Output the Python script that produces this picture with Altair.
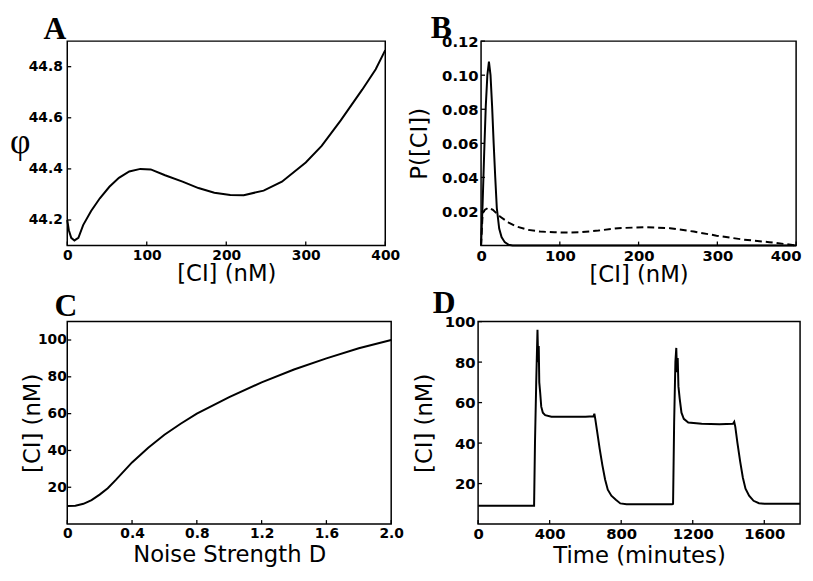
import altair as alt
import pandas as pd

# ---------------- Panel A : potential phi vs [CI] ----------------
a_ci = [0, 2, 5, 9, 14, 20, 30, 41, 53, 65, 78, 92, 105, 123, 145, 165, 185,
        205, 222, 247, 270, 300, 320, 344, 371, 388, 400]
a_phi = [44.20, 44.16, 44.13, 44.12, 44.13, 44.18, 44.235, 44.285, 44.33, 44.365,
         44.39, 44.40, 44.398, 44.375, 44.35, 44.325, 44.307, 44.298, 44.297,
         44.315, 44.35, 44.425, 44.49, 44.59, 44.71, 44.79, 44.865]

# ---------------- Panel B : probability distributions ----------------
b_ci_solid = [0, 2, 4, 6, 8, 10, 12, 14, 16, 18, 20, 23, 26, 30, 35, 40, 400]
b_p_solid = [0.0, 0.025, 0.055, 0.082, 0.100, 0.108, 0.100, 0.082, 0.060, 0.040,
             0.022, 0.010, 0.005, 0.002, 0.0005, 0.0, 0.0]
b_ci_dash = [0, 2, 5, 9.5, 15, 24, 35, 45, 60, 75, 93, 110, 126, 149, 174, 207,
             240, 270, 299, 333, 366, 391, 400]
b_p_dash = [0.0, 0.019, 0.021, 0.0223, 0.021, 0.017, 0.0135, 0.0112, 0.0092,
            0.0082, 0.0078, 0.0076, 0.0078, 0.0088, 0.0102, 0.0108, 0.0102,
            0.0082, 0.0058, 0.0035, 0.002, 0.0006, 0.0]

# ---------------- Panel C : mean [CI] vs noise strength ----------------
c_d = [0, 0.05, 0.1, 0.15, 0.2, 0.25, 0.3, 0.4, 0.5, 0.6, 0.7, 0.8, 0.9, 1.0,
       1.2, 1.4, 1.6, 1.8, 2.0]
c_ci = [9.8, 10, 11, 13, 16, 19.5, 24, 33.5, 41.5, 48.5, 54.5, 60, 64.5, 69,
        77, 84, 90, 95.5, 100]

# ---------------- Panel D : time series ----------------
d_t = [0, 313, 318, 325, 332, 336, 339, 342, 347, 353, 362, 375, 410, 500, 600,
       645, 650, 655, 665, 680, 695, 710, 725, 745, 770, 795, 830, 1085, 1090,
       1096, 1103, 1108, 1112, 1116, 1120, 1127, 1137, 1150, 1175, 1250, 1350,
       1425, 1432, 1438, 1450, 1465, 1480, 1495, 1515, 1540, 1570, 1600, 1800]
d_ci = [9, 9, 40, 70, 96, 80, 88, 70, 65, 58, 55, 53.8, 53, 53, 53, 53.2, 54.5,
        52, 46, 37, 29, 22, 17, 14, 12, 10.2, 9.8, 9.8, 10, 50, 80, 87, 75, 82,
        68, 62, 55, 52, 50.2, 49.5, 49.3, 49.5, 50.5, 48, 40, 31, 23, 17.5, 14,
        11.5, 10.3, 10, 10]

# tick values
a_xticks = [0, 100, 200, 300, 400]
a_yticks = [44.2, 44.4, 44.6, 44.8]
b_yticks = [0.02, 0.04, 0.06, 0.08, 0.10, 0.12]
c_xticks = [0, 0.4, 0.8, 1.2, 1.6, 2.0]
c_yticks = [20, 40, 60, 80, 100]
d_xticks = [0, 400, 800, 1200, 1600]
d_yticks = [20, 40, 60, 80, 100]

panel_letters = ["A", "B", "C", "D"]

LAB_FONT = "DejaVu Sans"
TIT_FONT = "DejaVu Sans"
LET_FONT = "Liberation Serif"


def letter(t, dx, dy):
    return alt.Chart(pd.DataFrame({"t": [t]})).mark_text(
        font=LET_FONT, fontSize=32, fontWeight="bold", color="black",
        align="left", baseline="alphabetic",
    ).encode(text="t:N", x=alt.value(dx), y=alt.value(dy))


def line(df, x, y, xs, ys, xa, ya, dash=None):
    kw = dict(color="black", strokeWidth=2)
    if dash:
        kw["strokeDash"] = dash
    return alt.Chart(df).mark_line(**kw).encode(
        x=alt.X(x, type="quantitative", scale=xs, axis=xa),
        y=alt.Y(y, type="quantitative", scale=ys, axis=ya),
    )


def inward_ticks(xf, yf, xs, ys, xa, ya, xt, yt, h):
    """Short tick marks drawn inside the frame, at the axis tick values."""
    ly = alt.Chart(pd.DataFrame({yf: yt})).mark_rule(
        color="black", strokeWidth=1.3).encode(
        y=alt.Y(yf, type="quantitative", scale=ys, axis=ya),
        x=alt.value(0), x2=alt.value(4))
    lx = alt.Chart(pd.DataFrame({xf: xt})).mark_rule(
        color="black", strokeWidth=1.3).encode(
        x=alt.X(xf, type="quantitative", scale=xs, axis=xa),
        y=alt.value(h), y2=alt.value(h - 4))
    return [ly, lx]


# Panel A
dfa = pd.DataFrame({"ci": a_ci, "phi": a_phi})
ax_s = alt.Scale(domain=[0, 400], nice=False, zero=False)
ay_s = alt.Scale(domain=[44.1, 44.9], nice=False, zero=False)
ax_a = alt.Axis(values=a_xticks, title="[CI] (nM)", format="d", titlePadding=0)
ay_a = alt.Axis(values=a_yticks, format=".1f", title="φ", titleAngle=0,
                titleFont=LET_FONT, titleFontSize=36, titleAlign="center",
                titleBaseline="middle", titleX=-48, titleY=102, labelPadding=5)
panelA = alt.layer(
    line(dfa, "ci", "phi", ax_s, ay_s, ax_a, ay_a),
    *inward_ticks("ci", "phi", ax_s, ay_s, ax_a, ay_a, a_xticks, a_yticks, 207),
    letter(panel_letters[0], -24, -2),
).properties(width=322, height=207)

# Panel B
dfb1 = pd.DataFrame({"ci": b_ci_solid, "p": b_p_solid})
dfb2 = pd.DataFrame({"ci": b_ci_dash, "p": b_p_dash})
bx_s = alt.Scale(domain=[0, 400], nice=False, zero=False)
by_s = alt.Scale(domain=[0, 0.12], nice=False)
bx_a = alt.Axis(values=a_xticks, title="[CI] (nM)", format="d", labelFontSize=15,
                labelFlush=True, labelFlushOffset=5, titlePadding=0)
by_a = alt.Axis(values=b_yticks, format=".2f", title="P([CI])", labelFontSize=15,
                titlePadding=10)
panelB = alt.layer(
    line(dfb2, "ci", "p", bx_s, by_s, bx_a, by_a, dash=[7, 4]),
    line(dfb1, "ci", "p", bx_s, by_s, bx_a, by_a),
    *inward_ticks("ci", "p", bx_s, by_s, bx_a, by_a, a_xticks, b_yticks, 207),
    letter(panel_letters[1], -51, -3),
).properties(width=319, height=207)

# Panel C
dfc = pd.DataFrame({"d": c_d, "ci": c_ci})
cx_s = alt.Scale(domain=[0, 2.0], nice=False, zero=False)
cy_s = alt.Scale(domain=[0, 110], nice=False)
cx_a = alt.Axis(values=c_xticks, title="Noise Strength D",
                labelExpr="datum.value == 0 ? '0' : format(datum.value, '.1f')",
                titlePadding=3)
cy_a = alt.Axis(values=c_yticks, format="d", title="[CI] (nM)", titlePadding=-7,
                labelPadding=1)
panelC = alt.layer(
    line(dfc, "d", "ci", cx_s, cy_s, cx_a, cy_a),
    *inward_ticks("d", "ci", cx_s, cy_s, cx_a, cy_a, c_xticks, c_yticks, 205),
    letter(panel_letters[2], -13, -6),
).properties(width=328, height=205)

# Panel D
dfd = pd.DataFrame({"t": d_t, "ci": d_ci})
dx_s = alt.Scale(domain=[0, 1800], nice=False, zero=False)
dy_s = alt.Scale(domain=[0, 100], nice=False)
dx_a = alt.Axis(values=d_xticks, format="d", title="Time (minutes)", titlePadding=3,
                labelFontSize=15)
dy_a = alt.Axis(values=d_yticks, format="d", title="[CI] (nM)", titlePadding=8,
                labelFontSize=15)
panelD = alt.layer(
    line(dfd, "t", "ci", dx_s, dy_s, dx_a, dy_a),
    *inward_ticks("t", "ci", dx_s, dy_s, dx_a, dy_a, d_xticks, d_yticks, 205),
    letter(panel_letters[3], -46, -9),
).properties(width=326, height=205)

row1 = alt.hconcat(panelA, panelB, spacing=7)
row2 = alt.hconcat(panelC, panelD, spacing=7)
chart = alt.vconcat(row1, row2, spacing=-1).properties(
    padding=0, background="white"
).configure_view(
    stroke="black", strokeWidth=1.5
).configure_axis(
    grid=False, domain=False, ticks=False,
    labelFont=LAB_FONT, labelFontSize=14, labelFontWeight="bold",
    labelColor="black", labelPadding=3, labelFlush=False, labelOverlap=False,
    titleFont=TIT_FONT, titleFontSize=23, titleFontWeight="normal",
    titleColor="black", titlePadding=1,
)

chart.save("out.html", embed_options={"renderer": "svg", "actions": False})
